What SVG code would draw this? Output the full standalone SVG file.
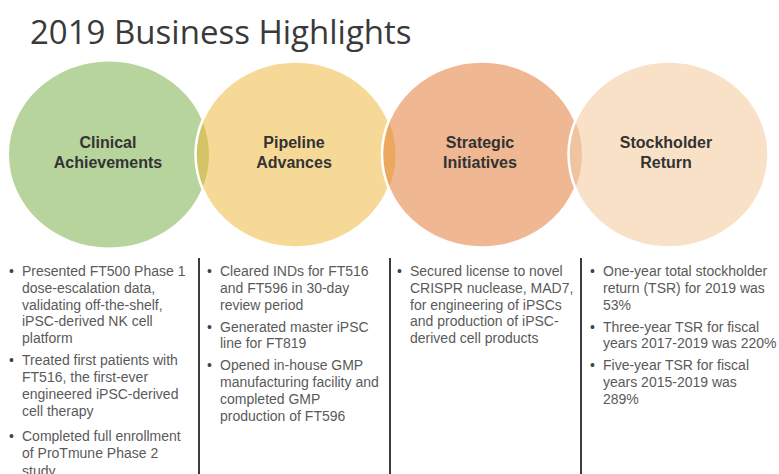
<svg xmlns="http://www.w3.org/2000/svg" width="779" height="474" viewBox="0 0 779 474">
<defs>
<style>
.title{font-family:"Open Sans","Liberation Sans",sans-serif;font-size:33px;fill:#3a3a3a}
.lbl{font-family:"Liberation Sans",Arial,sans-serif;font-size:16px;font-weight:bold;fill:#333;text-anchor:middle}
.txt{font-family:"Liberation Sans",Arial,sans-serif;font-size:14px;fill:#5a5a5a}
.bul{font-family:"Liberation Sans",Arial,sans-serif;font-size:14px;fill:#444}
.edge{fill:none;stroke:#fff;stroke-width:2.5}
.sep{stroke:#3c3c3c;stroke-width:2}
</style>
<clipPath id="c1"><ellipse cx="109" cy="154.5" rx="100" ry="93"/></clipPath>
<clipPath id="c2"><ellipse cx="295.5" cy="154.5" rx="100" ry="93"/></clipPath>
<clipPath id="c3"><ellipse cx="482" cy="154.5" rx="100" ry="93"/></clipPath>
</defs>
<rect width="779" height="474" fill="#fff"/>
<text class="title" x="30" y="44">2019 Business Highlights</text>

<g id="node-clinical">
<ellipse cx="109" cy="154.5" rx="100" ry="93" fill="#b6d49c"/>
<text class="lbl" x="108" y="148">Clinical</text>
<text class="lbl" x="108" y="168">Achievements</text>
</g>
<g id="node-pipeline">
<ellipse cx="295.5" cy="154.5" rx="100" ry="93" fill="#f7d997"/>
<ellipse cx="295.5" cy="154.5" rx="100" ry="93" fill="#d5c466" clip-path="url(#c1)"/>
<ellipse class="edge" cx="295.5" cy="154.5" rx="100" ry="93"/>
<text class="lbl" x="294" y="148">Pipeline</text>
<text class="lbl" x="294" y="168">Advances</text>
</g>
<g id="node-strategic">
<ellipse cx="482" cy="154.5" rx="100" ry="93" fill="#efb792"/>
<ellipse cx="482" cy="154.5" rx="100" ry="93" fill="#eca85e" clip-path="url(#c2)"/>
<ellipse class="edge" cx="482" cy="154.5" rx="100" ry="93"/>
<text class="lbl" x="480" y="148">Strategic</text>
<text class="lbl" x="480" y="168">Initiatives</text>
</g>
<g id="node-stockholder">
<ellipse cx="668.5" cy="154.5" rx="100" ry="93" fill="#f9e1c8"/>
<ellipse cx="668.5" cy="154.5" rx="100" ry="93" fill="#f0c4a1" clip-path="url(#c3)"/>
<ellipse class="edge" cx="668.5" cy="154.5" rx="100" ry="93"/>
<text class="lbl" x="666" y="148">Stockholder</text>
<text class="lbl" x="666" y="168">Return</text>
</g>

<g id="connectors">
<line class="sep" x1="199" y1="258" x2="199" y2="474"/>
<line class="sep" x1="390" y1="258" x2="390" y2="474"/>
<line class="sep" x1="581" y1="258" x2="581" y2="474"/>
</g>

<g id="list-clinical">
<text class="bul" x="9" y="276">•</text>
<text class="txt" x="22" y="276">Presented FT500 Phase 1</text>
<text class="txt" x="22" y="292.8">dose-escalation data,</text>
<text class="txt" x="22" y="309.6">validating off-the-shelf,</text>
<text class="txt" x="22" y="326.4">iPSC-derived NK cell</text>
<text class="txt" x="22" y="343.2">platform</text>
<text class="bul" x="9" y="365.2">•</text>
<text class="txt" x="22" y="365.2">Treated first patients with</text>
<text class="txt" x="22" y="382">FT516, the first-ever</text>
<text class="txt" x="22" y="398.8">engineered iPSC-derived</text>
<text class="txt" x="22" y="415.6">cell therapy</text>
<text class="bul" x="9" y="441">•</text>
<text class="txt" x="22" y="441">Completed full enrollment</text>
<text class="txt" x="22" y="458">of ProTmune Phase 2</text>
<text class="txt" x="22" y="476">study</text>
</g>
<g id="list-pipeline">
<text class="bul" x="207" y="276">•</text>
<text class="txt" x="220" y="276">Cleared INDs for FT516</text>
<text class="txt" x="220" y="292.8">and FT596 in 30-day</text>
<text class="txt" x="220" y="309.6">review period</text>
<text class="bul" x="207" y="331.6">•</text>
<text class="txt" x="220" y="331.6">Generated master iPSC</text>
<text class="txt" x="220" y="348.4">line for FT819</text>
<text class="bul" x="207" y="370.4">•</text>
<text class="txt" x="220" y="370.4">Opened in-house GMP</text>
<text class="txt" x="220" y="387.2">manufacturing facility and</text>
<text class="txt" x="220" y="404">completed GMP</text>
<text class="txt" x="220" y="420.8">production of FT596</text>
</g>
<g id="list-strategic">
<text class="bul" x="397" y="276">•</text>
<text class="txt" x="410" y="276">Secured license to novel</text>
<text class="txt" x="410" y="292.8">CRISPR nuclease, MAD7,</text>
<text class="txt" x="410" y="309.6">for engineering of iPSCs</text>
<text class="txt" x="410" y="326.4">and production of iPSC-</text>
<text class="txt" x="410" y="343.2">derived cell products</text>
</g>
<g id="list-stockholder">
<text class="bul" x="590" y="276">•</text>
<text class="txt" x="603" y="276">One-year total stockholder</text>
<text class="txt" x="603" y="292.8">return (TSR) for 2019 was</text>
<text class="txt" x="603" y="309.6">53%</text>
<text class="bul" x="590" y="331.6">•</text>
<text class="txt" x="603" y="331.6">Three-year TSR for fiscal</text>
<text class="txt" x="603" y="348.4">years 2017-2019 was 220%</text>
<text class="bul" x="590" y="370.4">•</text>
<text class="txt" x="603" y="370.4">Five-year TSR for fiscal</text>
<text class="txt" x="603" y="387.2">years 2015-2019 was</text>
<text class="txt" x="603" y="404">289%</text>
</g>
</svg>
